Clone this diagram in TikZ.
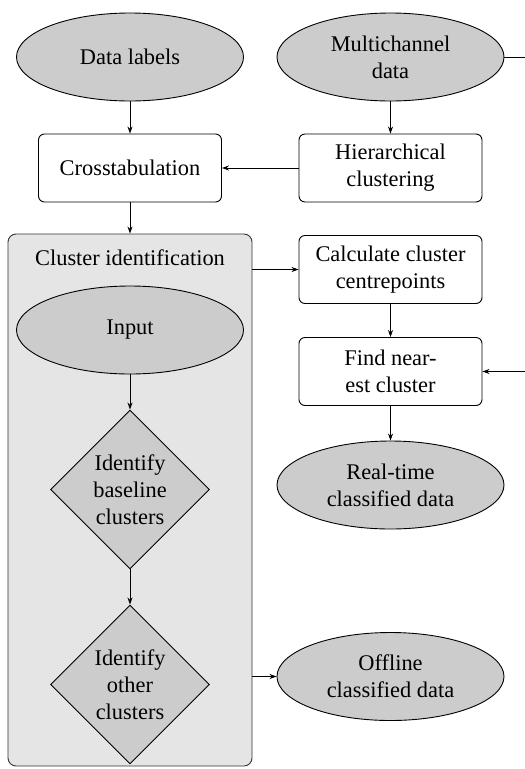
\documentclass[tikz,border=0pt]{standalone}
\usepackage{fontspec}
\setmainfont{Liberation Serif}
\newfontfamily\tms{Liberation Serif}
\usetikzlibrary{shapes.geometric,arrows.meta}
\tikzset{
  base/.style={draw=black, line width=0.9pt, align=center, inner sep=0pt,
    font=\tms\fontsize{22.4}{26.9}\selectfont},
  oval/.style={base, ellipse, fill=gray!40, minimum width=227pt, minimum height=88pt},
  pbox/.style={base, rounded corners=6pt, fill=white, minimum width=183pt, minimum height=68pt},
  dia/.style={base, diamond, fill=gray!40, minimum width=159pt, minimum height=159pt},
  group/.style={draw=black!80, line width=0.9pt, rounded corners=8pt, fill=gray!20,
    minimum width=244pt, minimum height=532pt, inner sep=0pt},
  arr/.style={-{Stealth[length=7pt,width=5pt]}, line width=0.9pt},
  ln/.style={line width=0.9pt}
}
\begin{document}
\begin{tikzpicture}[x=1pt,y=-1pt]
\clip (0,0) rectangle (525,769);
\node[group] (cont) at (130,500) {};
\node[base, draw=none] (title) at (130,258) {Cluster identification};
\node[oval] (labels) at (130,57) {Data labels};
\node[oval] (multi) at (390.5,57) {Multichannel\\data};
\node[pbox] (cross) at (130,168) {Crosstabulation};
\node[pbox] (hier) at (390.5,168) {Hierarchical\\clustering};
\node[oval] (input) at (130,330) {Input};
\node[dia] (base1) at (130,489.5) {Identify\\baseline\\clusters};
\node[dia] (other) at (130,684.5) {Identify\\other\\clusters};
\node[pbox] (calc) at (390.5,269.5) {Calculate cluster\\centrepoints};
\node[pbox] (find) at (390.5,371.5) {Find near-\\est cluster};
\node[oval] (rt) at (390.5,485) {Real-time\\classified data};
\node[oval] (off) at (390.5,676.5) {Offline\\classified data};
\coordinate (far) at (600,57);
\draw[arr] (labels) -- (cross);
\draw[arr] (multi) -- (hier);
\draw[arr] (hier) -- (cross);
\draw[arr] (cross.south) -- (cont.north -| cross.south);
\draw[arr] (input) -- (base1);
\draw[arr] (base1) -- (other);
\draw[arr] (calc.west -| cont.east) -- (calc.west);
\draw[arr] (calc) -- (find);
\draw[arr] (find) -- (rt);
\draw[arr] (off.west -| cont.east) -- (off.west);
\draw[arr] (multi.east) -- (far) |- (find.east);
\end{tikzpicture}
\end{document}
